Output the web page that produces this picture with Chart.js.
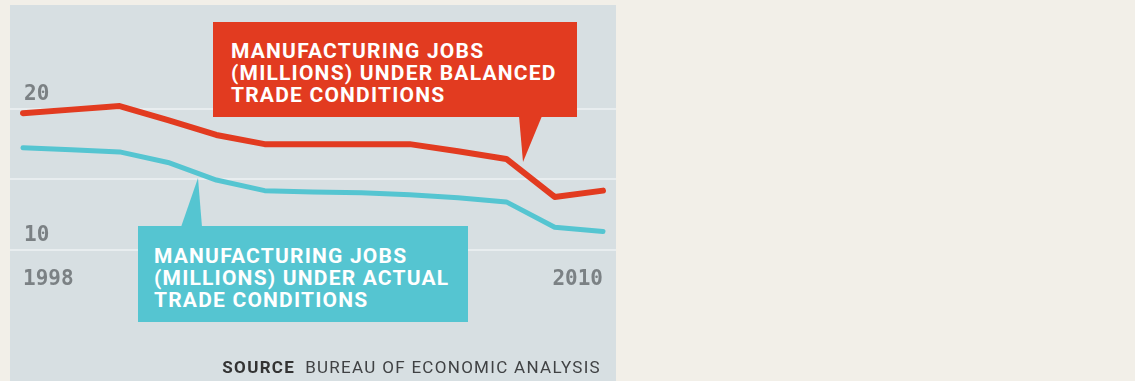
<!DOCTYPE html>
<html>
<head>
<meta charset="utf-8">
<script src="https://cdn.jsdelivr.net/npm/chart.js@4"></script>
<style>
  html, body { margin: 0; padding: 0; background: #f2efe8; width: 1135px; height: 381px; overflow: hidden; }
  #panel { position: absolute; left: 10px; top: 5px; width: 606px; height: 376px; background: #d7dfe2; }
  #chart-wrap { position: absolute; left: 0; top: 0; width: 606px; height: 304px; }
  .callout {
    position: absolute; box-sizing: border-box; white-space: nowrap; color: #fff;
    font-family: Roboto, sans-serif; font-weight: 700; font-size: 21px; line-height: 22px; letter-spacing: 1.2px;
  }
  #red-box { left: 203px; top: 17px; width: 364px; height: 95px; background: #e23b20; padding: 18px 0 0 18px; }
  #cyan-box { left: 128px; top: 221px; width: 330px; height: 96px; background: #55c5d1; padding: 19px 0 0 16px; }
  #pointers { position: absolute; left: 0; top: 0; width: 606px; height: 376px; pointer-events: none; }
  #source {
    position: absolute; right: 15px; top: 352px; font-family: Roboto, sans-serif; font-size: 17px;
    line-height: 20px; color: #404244; white-space: nowrap; letter-spacing: 1.3px;
  }
  #source b { color: #333; margin-right: 10px; }
</style>
</head>
<body>
<div id="panel">
  <div id="chart-wrap"><canvas id="jobs-chart"></canvas></div>
  <svg id="pointers" viewBox="0 0 606 376">
    <polygon points="509,111 532,111 513,157" fill="#e23b20"></polygon>
    <polygon points="171,222 192,222 188,173" fill="#55c5d1"></polygon>
  </svg>
  <div class="callout" id="red-box">MANUFACTURING JOBS<br>(MILLIONS) UNDER BALANCED<br>TRADE CONDITIONS</div>
  <div class="callout" id="cyan-box">MANUFACTURING JOBS<br>(MILLIONS) UNDER ACTUAL<br>TRADE CONDITIONS</div>
  <div id="source"><b>SOURCE</b>BUREAU OF ECONOMIC ANALYSIS</div>
</div>

<script>
'use strict';

// ---- Data ----
var years = [1998, 1999, 2000, 2001, 2002, 2003, 2004, 2005, 2006, 2007, 2008, 2009, 2010];
var balancedJobs = [19.7, 19.95, 20.2, 19.2, 18.15, 17.5, 17.5, 17.5, 17.5, 17.0, 16.45, 13.75, 14.2];
var actualJobs = [17.25, 17.1, 16.95, 16.2, 14.95, 14.2, 14.1, 14.05, 13.9, 13.7, 13.4, 11.6, 11.3];
var yTicks = [10, 15, 20];
var yLabels = { 10: '10', 20: '20' };
var xTicks = [1998, 2010];

var RED = '#e23b20';
var CYAN = '#55c5d1';
var AXIS_TEXT = '#7b8184';
var AXIS_FONT = { family: 'DejaVu Sans Mono', size: 21, weight: 'bold' };

function toPoints(values) {
  return years.map(function(y, i) { return { x: y, y: values[i] }; });
}

function noPadding(scale) {
  scale.paddingLeft = 0;
  scale.paddingRight = 0;
  scale.paddingTop = 0;
  scale.paddingBottom = 0;
}

new Chart(document.getElementById('jobs-chart'), {
  type: 'line',
  data: {
    datasets: [
      {
        label: 'Manufacturing jobs (millions) under actual trade conditions',
        data: toPoints(actualJobs),
        borderColor: CYAN,
        borderWidth: 5,
        pointRadius: 0,
        tension: 0,
        borderCapStyle: 'round',
        borderJoinStyle: 'round',
      },
      {
        label: 'Manufacturing jobs (millions) under balanced trade conditions',
        data: toPoints(balancedJobs),
        borderColor: RED,
        borderWidth: 6,
        pointRadius: 0,
        tension: 0,
        borderCapStyle: 'round',
        borderJoinStyle: 'round',
      },
    ],
  },
  options: {
    responsive: true,
    maintainAspectRatio: false,
    animation: false,
    devicePixelRatio: 1,
    layout: { padding: 0 },
    plugins: {
      legend: { display: false },
      tooltip: { enabled: false },
    },
    scales: {
      x: {
        type: 'linear',
        min: 1997.731,
        max: 2010.269,
        grid: { display: false, drawTicks: false },
        border: { display: false },
        afterBuildTicks: function(scale) {
          scale.ticks = xTicks.map(function(v) { return { value: v }; });
        },
        afterFit: noPadding,
        ticks: {
          autoSkip: false,
          maxRotation: 0,
          align: 'inner',
          padding: 17,
          color: AXIS_TEXT,
          font: AXIS_FONT,
          callback: function(v) { return String(v); },
        },
      },
      y: {
        type: 'linear',
        min: 10,
        max: 27.376,
        grid: { color: '#e8edef', lineWidth: 2, drawTicks: false },
        border: { display: false },
        afterBuildTicks: function(scale) {
          scale.ticks = yTicks.map(function(v) { return { value: v }; });
        },
        afterFit: function(scale) {
          scale.width = 0;
          noPadding(scale);
        },
        ticks: {
          mirror: true,
          padding: 14,
          labelOffset: -14,
          color: AXIS_TEXT,
          font: AXIS_FONT,
          callback: function(v) { return yLabels[v] || ''; },
        },
      },
    },
  },
});
</script>
</body>
</html>
